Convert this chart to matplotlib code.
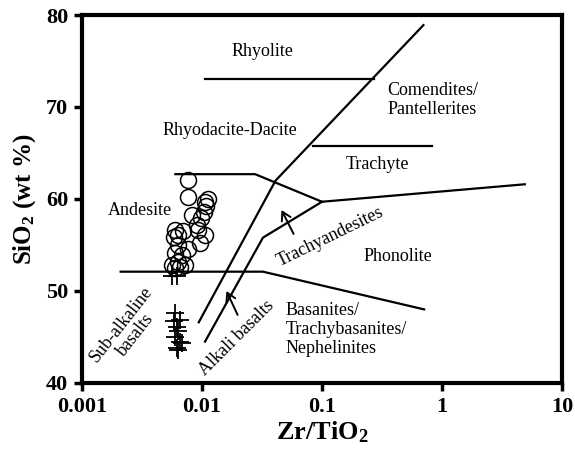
import matplotlib
matplotlib.use("Agg")
import matplotlib.pyplot as plt
from matplotlib.ticker import FixedLocator, FixedFormatter, NullLocator

plt.rcParams['font.family'] = ['Liberation Serif', 'DejaVu Serif']
plt.rcParams['mathtext.fontset'] = 'custom'
plt.rcParams['mathtext.rm'] = 'Liberation Serif:bold'
plt.rcParams['mathtext.default'] = 'rm'

# sample data (Zr/TiO2, SiO2)
circ_x = [0.0077, 0.0077, 0.0082, 0.0106, 0.0109, 0.0103, 0.0099, 0.0060, 0.0063,
          0.0058, 0.0070, 0.0093, 0.0106, 0.0096, 0.0063, 0.0077, 0.0060, 0.0068,
          0.0063, 0.0056, 0.0072, 0.0060, 0.0066, 0.0112, 0.0090]
circ_y = [62.1, 60.2, 58.3, 59.7, 59.2, 58.6, 57.9, 56.6, 56.1,
          55.9, 56.5, 56.6, 56.1, 55.2, 55.0, 54.6, 54.1, 53.9,
          53.2, 52.8, 52.8, 52.5, 52.6, 60.0, 57.2]
cross_x = [0.0056, 0.0062, 0.0060, 0.0066, 0.0062, 0.0063, 0.0060, 0.0066,
           0.0062, 0.0068, 0.0063, 0.0058]
cross_y = [51.6, 51.6, 47.6, 46.9, 46.1, 45.6, 45.0, 44.5,
           43.8, 44.3, 43.6, 46.7]

# field boundaries
bounds = [
    ([0.0106, 0.27], [73, 73]),                       # rhyolite
    ([0.0094, 0.041, 0.70], [46.6, 62.0, 78.9]),      # sub-alkaline / alkaline
    ([0.084, 0.83], [65.8, 65.8]),                    # trachyte top
    ([0.0060, 0.0277, 0.10, 4.9], [62.7, 62.7, 59.7, 61.6]),
    ([0.0106, 0.0322, 0.10], [44.5, 55.8, 59.7]),     # trachyandesite
    ([0.0021, 0.0322, 0.71], [52.1, 52.1, 48.0]),     # basanites top
]

fig = plt.figure(figsize=(5.75, 4.63), dpi=100)
ax = fig.add_axes([0.1426, 0.1728, 0.8348, 0.7948])

for bx, by in bounds:
    ax.plot(bx, by, color='black', linewidth=1.6)

ax.plot(circ_x, circ_y, linestyle='none', marker='o', markersize=11.5,
        markerfacecolor='none', markeredgecolor='black', markeredgewidth=1.1)
ax.plot(cross_x, cross_y, linestyle='none', marker='+', markersize=13,
        color='black', markeredgewidth=1.3)

# labels of the fields
fs = 13
ax.text(0.0316, 76.0, 'Rhyolite', ha='center', va='center', fontsize=fs)
ax.text(0.83, 70.8, 'Comendites/\nPantellerites', ha='center', va='center', fontsize=fs, linespacing=1.15)
ax.text(0.0171, 67.4, 'Rhyodacite-Dacite', ha='center', va='center', fontsize=fs)
ax.text(0.287, 63.7, 'Trachyte', ha='center', va='center', fontsize=fs)
ax.text(0.00304, 58.8, 'Andesite', ha='center', va='center', fontsize=fs)
ax.text(0.43, 53.8, 'Phonolite', ha='center', va='center', fontsize=fs)
ax.text(0.117, 55.9, 'Trachyandesites', ha='center', va='center', fontsize=fs, rotation=26)
ax.text(0.050, 45.8, 'Basanites/\nTrachybasanites/\nNephelinites', ha='left', va='center',
        fontsize=fs, linespacing=1.15)
ax.text(0.00242, 45.8, 'Sub-alkaline\nbasalts', ha='center', va='center', fontsize=fs,
        rotation=52, linespacing=1.1)
ax.text(0.0196, 44.9, 'Alkali basalts', ha='center', va='center', fontsize=fs, rotation=45)

# arrows
arr = dict(arrowstyle='->,head_length=0.6,head_width=0.35', color='black', lw=1.4,
           shrinkA=0, shrinkB=0)
ax.annotate('', xy=(0.0460, 58.8), xytext=(0.0580, 56.2), arrowprops=arr)
ax.annotate('', xy=(0.0160, 50.0), xytext=(0.0198, 47.4), arrowprops=arr)

ax.set_xscale('log')
ax.set_xlim(0.001, 10)
ax.set_ylim(40, 80)
xt = [0.001, 0.01, 0.1, 1, 10]
ax.xaxis.set_major_locator(FixedLocator(xt))
ax.xaxis.set_major_formatter(FixedFormatter(['0.001', '0.01', '0.1', '1', '10']))
ax.xaxis.set_minor_locator(NullLocator())
ax.set_yticks([40, 50, 60, 70, 80])

for s in ax.spines.values():
    s.set_linewidth(3.0)
ax.tick_params(direction='out', length=6, width=2.5, labelsize=16, pad=4)
for lab in ax.get_xticklabels() + ax.get_yticklabels():
    lab.set_fontweight('bold')

ax.set_xlabel('Zr/TiO$_2$', fontsize=19, fontweight='bold', labelpad=2)
ax.set_ylabel('SiO$_2$ (wt %)', fontsize=18, fontweight='bold', labelpad=6)

fig.savefig('out.png', dpi=100)
